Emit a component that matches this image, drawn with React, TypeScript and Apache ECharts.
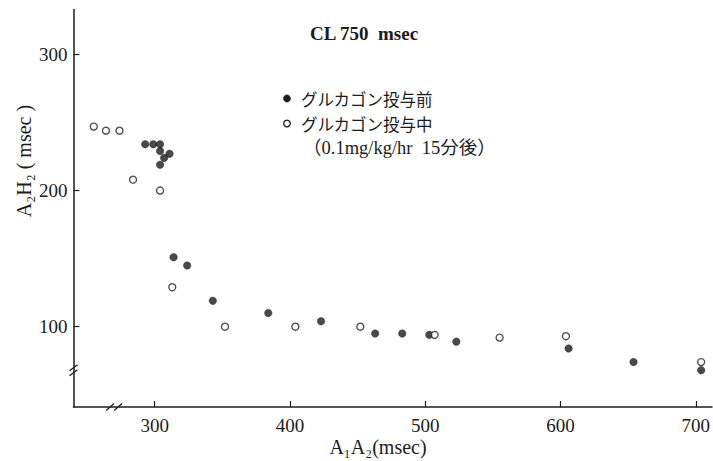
import React, { useEffect, useRef } from 'react';
import * as echarts from 'echarts';

// グルカゴン投与前 (filled circles)
const beforeX = [293, 299, 304, 304, 311, 307, 304, 314, 324, 343, 384, 423, 463, 483, 503, 523, 606, 654, 704];
const beforeY = [234, 234, 234, 229, 227, 224, 219, 151, 145, 119, 110, 104, 95, 95, 94, 89, 84, 74, 68];
// グルカゴン投与中 (open circles)
const duringX = [255, 264, 274, 284, 304, 313, 352, 404, 452, 507, 555, 604, 704];
const duringY = [247, 244, 244, 208, 200, 129, 100, 100, 100, 94, 92, 93, 74];

const xTicks = [300, 400, 500, 600, 700];
const yTicks = [100, 200, 300];
const xBreakAt = 270;
const yBreakAt = 68;

const seriesNames = ['グルカゴン投与前', 'グルカゴン投与中'];
const doseNote = '（0.1mg/kg/hr  15分後）';

export default function App() {
  const ref = useRef<HTMLDivElement>(null);
  useEffect(() => {
    document.body.style.margin = '0';
    const chart = echarts.init(ref.current!, null, { renderer: 'svg' });
    const serif = '"Liberation Serif", "Times New Roman", serif';
    const jp = '"Noto Sans CJK JP", sans-serif';
    const ink = '#1c1c1c';
    const toPairs = (xs: number[], ys: number[]) => xs.map((x, i) => [x, ys[i]]);

    chart.setOption({
      animation: false,
      backgroundColor: '#ffffff',
      grid: { left: 73.5, right: 0.5, top: 9.5, bottom: 54, containLabel: false },
      xAxis: {
        type: 'value',
        min: 240,
        max: 712,
        axisLine: { onZero: false, lineStyle: { color: ink, width: 1.5 } },
        axisTick: { inside: true, length: 6, customValues: xTicks, lineStyle: { color: ink, width: 1.2 } },
        axisLabel: { customValues: xTicks, margin: 9, fontSize: 19, fontFamily: serif, color: ink },
        splitLine: { show: false },
      },
      yAxis: {
        type: 'value',
        min: 41,
        max: 333,
        axisLine: { show: true, onZero: false, lineStyle: { color: ink, width: 1.5 } },
        axisTick: { show: true, inside: true, length: 6, customValues: yTicks, lineStyle: { color: ink, width: 1.2 } },
        axisLabel: { customValues: yTicks, margin: 6, fontSize: 19, fontFamily: serif, color: ink },
        splitLine: { show: false },
      },
      series: [
        {
          name: seriesNames[0],
          type: 'scatter',
          symbol: 'circle',
          symbolSize: 7.5,
          itemStyle: { color: ink, borderColor: ink, borderWidth: 0.5 },
          data: toPairs(beforeX, beforeY),
        },
        {
          name: seriesNames[1],
          type: 'scatter',
          symbol: 'circle',
          symbolSize: 7,
          itemStyle: { color: '#ffffff', borderColor: ink, borderWidth: 1.3 },
          data: toPairs(duringX, duringY),
        },
      ],
    });

    const yb = chart.convertToPixel({ gridIndex: 0 }, [240, yBreakAt]) as number[];
    const xb = chart.convertToPixel({ gridIndex: 0 }, [xBreakAt, 41]) as number[];
    const lineStyle = { stroke: ink, lineWidth: 1.3 };
    const graphics: any[] = [
      {
        type: 'text',
        x: 364,
        y: 33,
        style: { text: 'CL 750  msec', fontFamily: serif, fontSize: 19, fontWeight: 'bold', fill: ink, textAlign: 'center', textVerticalAlign: 'middle' },
      },
      // legend: markers + labels
      { type: 'circle', shape: { cx: 287, cy: 98.5, r: 3.6 }, style: { fill: ink, stroke: ink, lineWidth: 0.5 } },
      { type: 'circle', shape: { cx: 287, cy: 123.5, r: 3.3 }, style: { fill: '#ffffff', stroke: ink, lineWidth: 1.3 } },
      {
        type: 'text',
        x: 301,
        y: 98.5,
        style: { text: seriesNames[0], fontFamily: jp, fontSize: 16.5, fill: ink, textAlign: 'left', textVerticalAlign: 'middle' },
      },
      {
        type: 'text',
        x: 301,
        y: 123.5,
        style: { text: seriesNames[1], fontFamily: jp, fontSize: 16.5, fill: ink, textAlign: 'left', textVerticalAlign: 'middle' },
      },
      {
        type: 'text',
        x: 303,
        y: 148,
        style: { text: doseNote, fontFamily: serif + ', ' + jp, fontSize: 18.5, fill: ink, textAlign: 'left', textVerticalAlign: 'middle' },
      },
      {
        type: 'text',
        x: 24,
        y: 161,
        rotation: Math.PI / 2,
        style: { text: 'A₂H₂ ( msec )', fontFamily: serif, fontSize: 20, fill: ink, textAlign: 'center', textVerticalAlign: 'middle' },
      },
      {
        type: 'text',
        x: 378,
        y: 447,
        style: { text: 'A₁A₂(msec)', fontFamily: serif, fontSize: 20, fill: ink, textAlign: 'center', textVerticalAlign: 'middle' },
      },
    ];
    [-2.5, 2.5].forEach((d) => {
      graphics.push({ type: 'line', shape: { x1: yb[0] - 4, y1: yb[1] + d + 3, x2: yb[0] + 4, y2: yb[1] + d - 3 }, style: lineStyle });
      graphics.push({ type: 'line', shape: { x1: xb[0] + d * 1.6 - 4, y1: xb[1] + 3.5, x2: xb[0] + d * 1.6 + 4, y2: xb[1] - 3.5 }, style: lineStyle });
    });
    chart.setOption({ graphic: graphics });

    return () => chart.dispose();
  }, []);
  return <div ref={ref} style={{ position: 'fixed', left: 0, top: 0, width: 713, height: 461 }} />;
}
